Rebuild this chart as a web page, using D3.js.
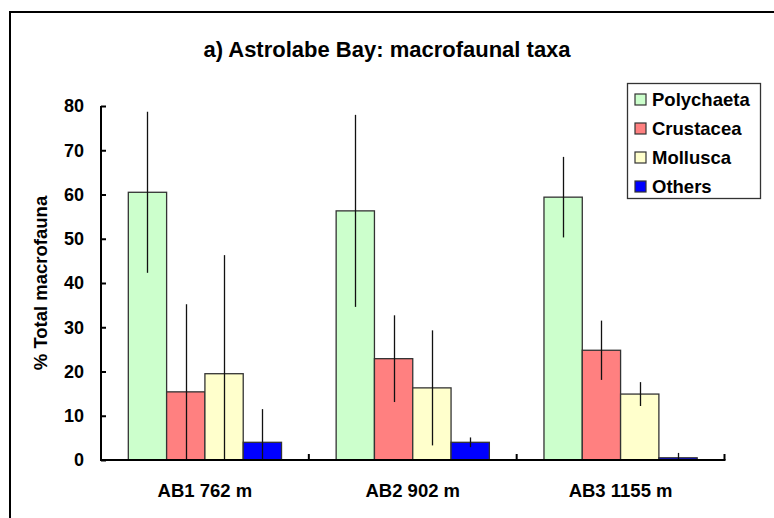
<!DOCTYPE html>
<html>
<head>
<meta charset="utf-8">
<script src="https://cdn.jsdelivr.net/npm/d3@7"></script>
<style>
  html, body { margin: 0; padding: 0; background: #fff; }
  svg { display: block; font-family: "Liberation Sans", Arial, sans-serif; font-weight: bold; }
</style>
</head>
<body>
<svg id="chart" width="774" height="518"></svg>
<script>
// Stations and taxa
const stations = ["AB1 762 m", "AB2 902 m", "AB3 1155 m"];
const taxa = ["Polychaeta", "Crustacea", "Mollusca", "Others"];

// Mean % of total macrofauna per station
const polychaeta = [60.5, 56.3, 59.4];
const crustacea  = [15.4, 22.9, 24.8];
const mollusca   = [19.5, 16.3, 14.9];
const others     = [4.0, 4.0, 0.5];

// Standard deviations
const polychaetaSD = [18.2, 21.7, 9.1];
const crustaceaSD  = [19.8, 9.8, 6.7];
const molluscaSD   = [26.8, 13.0, 2.7];
const othersSD     = [7.5, 1.1, 1.1];

const yTicks = [0, 10, 20, 30, 40, 50, 60, 70, 80];
const colors = ["#CCFFCC", "#FF8080", "#FFFFCC", "#0000FF"];

const means = [polychaeta, crustacea, mollusca, others];
const sds = [polychaetaSD, crustaceaSD, molluscaSD, othersSD];

const rows = [];
stations.forEach((s, i) => {
  taxa.forEach((t, j) => {
    rows.push({ station: s, taxon: t, value: means[j][i], sd: sds[j][i] });
  });
});

const svg = d3.select("#chart");

// outer frame
svg.append("rect")
  .attr("x", 10).attr("y", 12)
  .attr("width", 800).attr("height", 540)
  .attr("fill", "none").attr("stroke", "#000").attr("stroke-width", 2);

const x0 = d3.scaleBand().domain(stations).range([101, 724.5]).paddingInner(0).paddingOuter(0);
const x1 = d3.scaleBand().domain(taxa).range([0, x0.bandwidth()]).paddingInner(0).paddingOuter(0.713);
const y = d3.scaleLinear().domain([0, 80]).range([460, 106]);
const color = d3.scaleOrdinal().domain(taxa).range(colors);

// title
svg.append("text")
  .attr("x", 387).attr("y", 57)
  .attr("text-anchor", "middle")
  .attr("font-size", 22)
  .text("a) Astrolabe Bay: macrofaunal taxa");

// bars
const g = svg.append("g");
g.selectAll("rect.bar")
  .data(rows)
  .join("rect")
  .attr("class", "bar")
  .attr("x", d => x0(d.station) + x1(d.taxon))
  .attr("y", d => y(d.value))
  .attr("width", x1.bandwidth())
  .attr("height", d => y(0) - y(d.value))
  .attr("fill", d => color(d.taxon))
  .attr("stroke", "#333")
  .attr("stroke-width", 1.3);

// error bars (plain vertical lines, clipped at zero)
g.selectAll("line.err")
  .data(rows)
  .join("line")
  .attr("class", "err")
  .attr("x1", d => Math.round(x0(d.station) + x1(d.taxon) + x1.bandwidth() / 2) + 0.5)
  .attr("x2", d => Math.round(x0(d.station) + x1(d.taxon) + x1.bandwidth() / 2) + 0.5)
  .attr("y1", d => y(Math.max(0, d.value - d.sd)))
  .attr("y2", d => y(d.value + d.sd))
  .attr("stroke", "#111")
  .attr("stroke-width", 1.3);

// y axis
const yAxis = d3.axisRight(y).tickValues(yTicks).tickSize(5).tickFormat("");
const ya = svg.append("g").attr("transform", "translate(101,0)").call(yAxis);
ya.select(".domain").attr("stroke", "#000").attr("stroke-width", 2).attr("d", `M0,${y(80)}V${y(0)}`);
ya.selectAll(".tick line").attr("stroke", "#000").attr("stroke-width", 2);

svg.append("g").selectAll("text")
  .data(yTicks)
  .join("text")
  .attr("x", 84)
  .attr("y", d => y(d))
  .attr("dy", "0.36em")
  .attr("text-anchor", "end")
  .attr("font-size", 18)
  .text(d => d);

// x axis with category boundary ticks pointing up
const boundaries = stations.map(s => x0(s) + x0.bandwidth());
svg.append("line")
  .attr("x1", 100).attr("x2", 725.5)
  .attr("y1", y(0)).attr("y2", y(0))
  .attr("stroke", "#000").attr("stroke-width", 2);
svg.append("g").selectAll("line")
  .data(boundaries)
  .join("line")
  .attr("x1", d => d).attr("x2", d => d)
  .attr("y1", y(0)).attr("y2", y(0) - 6)
  .attr("stroke", "#000").attr("stroke-width", 2);

svg.append("g").selectAll("text")
  .data(stations)
  .join("text")
  .attr("x", d => x0(d) + x0.bandwidth() / 2)
  .attr("y", 497)
  .attr("text-anchor", "middle")
  .attr("font-size", 18.5)
  .text(d => d);

// y axis title
svg.append("text")
  .attr("transform", "translate(47,283) rotate(-90)")
  .attr("text-anchor", "middle")
  .attr("font-size", 18.5)
  .text("% Total macrofauna");

// legend
const legend = svg.append("g");
legend.append("rect")
  .attr("x", 627.5).attr("y", 83.5)
  .attr("width", 133).attr("height", 115)
  .attr("fill", "#fff").attr("stroke", "#333").attr("stroke-width", 1.3);
const items = legend.selectAll("g.item")
  .data(taxa)
  .join("g")
  .attr("class", "item")
  .attr("transform", (d, i) => `translate(0,${99.5 + i * 29})`);
items.append("rect")
  .attr("x", 635).attr("y", -5.5)
  .attr("width", 11).attr("height", 11)
  .attr("fill", d => color(d))
  .attr("stroke", "#333").attr("stroke-width", 1.2);
items.append("text")
  .attr("x", 652).attr("y", 6.5)
  .attr("font-size", 18.5)
  .text(d => d);
</script>
</body>
</html>
